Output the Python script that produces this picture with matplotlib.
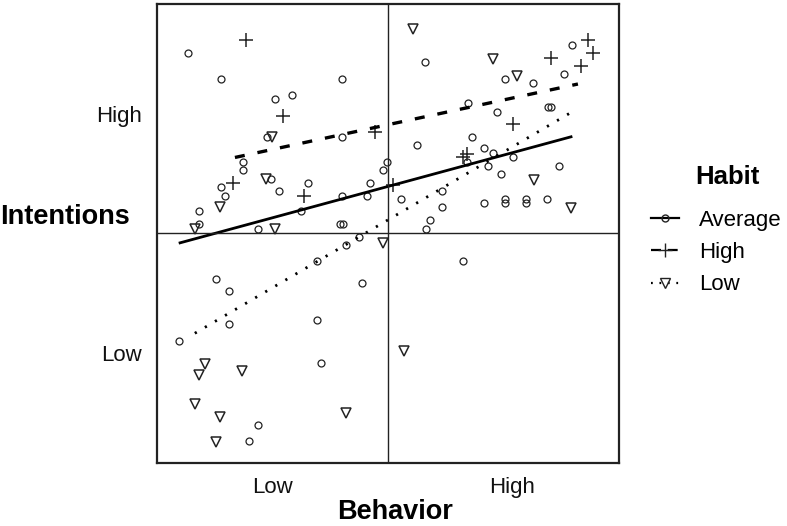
import numpy as np
import matplotlib
matplotlib.use('Agg')
import matplotlib.pyplot as plt
from matplotlib.lines import Line2D

plt.rcParams['font.family'] = ['Liberation Sans', 'DejaVu Sans']

# ---- data (0-100 scale on both axes) ----
avg_x = [6.55, 13.7, 40.0, 25.5, 29.2, 23.7, 40.0, 18.5, 18.5, 13.7, 14.7, 24.6,
         26.4, 32.7, 40.0, 46.2, 45.4, 49.0, 49.8, 9.1, 9.1, 21.7, 39.6, 40.2,
         31.1, 43.8, 58.0, 75.4, 81.5, 89.9, 88.2, 67.3, 73.6, 84.6, 85.4, 56.2,
         68.3, 70.8, 72.7, 67.2, 77.2, 71.6, 74.5, 87.2, 61.8, 52.8, 61.8, 70.8,
         75.4, 75.4, 79.9, 79.9, 84.4, 59.1, 58.2, 41.0, 34.5, 12.8, 15.6, 44.4,
         15.6, 34.5, 4.7, 35.4, 21.7, 19.8, 66.3]
avg_y = [89.3, 83.6, 83.6, 79.3, 80.1, 70.9, 70.9, 65.5, 63.7, 60.0, 58.2, 61.9,
         59.1, 61.0, 58.2, 61.0, 58.2, 63.7, 65.5, 54.8, 51.9, 51.0, 51.9, 51.9,
         54.8, 49.2, 87.4, 83.6, 82.8, 91.1, 84.6, 78.4, 76.5, 77.4, 77.4, 69.3,
         70.9, 68.5, 67.5, 65.5, 66.6, 64.6, 62.8, 64.6, 59.2, 57.5, 55.7, 56.6,
         57.5, 56.6, 57.5, 56.6, 57.5, 52.9, 51.0, 47.4, 43.9, 40.1, 37.4, 39.2,
         30.2, 31.2, 26.5, 21.8, 8.2, 4.7, 43.9]

high_x = [19.1, 27.3, 16.4, 31.8, 47.2, 85.4, 93.4, 94.5, 91.8, 77.2, 66.3, 67.2, 51.0]
high_y = [92.0, 75.5, 61.0, 58.2, 72.0, 88.2, 92.0, 89.2, 86.5, 73.7, 66.6, 67.2, 60.4]

low_x = [13.6, 8.1, 25.5, 24.8, 23.5, 55.5, 72.7, 78.0, 81.7, 89.8, 49.0, 10.2,
         9.1, 18.3, 8.2, 13.6, 40.9, 12.8, 53.5]
low_y = [55.6, 51.0, 51.0, 70.9, 61.9, 94.5, 88.0, 84.3, 61.6, 55.5, 47.9, 21.6,
         19.1, 20.0, 12.8, 9.9, 10.9, 4.6, 24.4]

# fitted lines: end points
avg_line_x = [4.9, 89.7]
avg_line_y = [47.9, 71.0]
high_line_x = [16.8, 91.2]
high_line_y = [66.5, 82.5]
low_line_x = [8.1, 89.7]
low_line_y = [28.2, 76.3]

tick_pos_x = [25, 77]
tick_pos_y = [24, 76]
tick_labels = ['Low', 'High']
groups = ['Average', 'High', 'Low']

INK = '#222222'

fig = plt.figure(figsize=(7.87, 5.26), dpi=100)
ax = fig.add_axes([0.2001, 0.1203, 0.5858, 0.8727])

mk = dict(linestyle='none', markerfacecolor='none', markeredgecolor=INK)
ax.plot(avg_x, avg_y, marker='o', markersize=5, markeredgewidth=0.9, **mk)
ax.plot(high_x, high_y, marker='+', markersize=10, markeredgewidth=1.1, **mk)
ax.plot(low_x, low_y, marker='v', markersize=7.5, markeredgewidth=1.1, **mk)

ax.plot(avg_line_x, avg_line_y, color='black', linewidth=2.0, linestyle='-')
ax.plot(high_line_x, high_line_y, color='black', linewidth=2.4,
        linestyle=(0, (3.0, 3.9)))
ax.plot(low_line_x, low_line_y, color='black', linewidth=2.0,
        linestyle=(0, (0.8, 3.4)))

ax.axvline(50, color=INK, linewidth=1.0)
ax.axhline(50, color=INK, linewidth=1.0)

ax.set_xlim(0, 100)
ax.set_ylim(0, 100)
ax.set_xticks(tick_pos_x)
ax.set_xticklabels(tick_labels)
ax.set_yticks(tick_pos_y)
ax.set_yticklabels(tick_labels)
ax.tick_params(length=0, labelsize=16, colors='#111111')
ax.tick_params(axis='x', pad=10)
ax.tick_params(axis='y', pad=11)
for s in ax.spines.values():
    s.set_linewidth(1.6)
    s.set_color(INK)

fig.text(65 / 787, 1 - 217 / 526, 'Intentions', fontsize=19.5,
         fontweight='bold', ha='center', va='center')
fig.text(395 / 787, 1 - 519 / 526, 'Behavior', fontsize=19.5,
         fontweight='bold', ha='center', va='baseline')

# legend: title drawn separately to get the wider gap under it
fig.text(727 / 787, 1 - 177 / 526, 'Habit', fontsize=18.5,
         fontweight='bold', ha='center', va='center')
handles = [
    Line2D([], [], color='black', linestyle='-', linewidth=1.6, marker='o',
           markersize=5, markerfacecolor='none', markeredgecolor=INK),
    Line2D([], [], color='black', linestyle=(0, (4.5, 3)), linewidth=1.6,
           marker='+', markersize=10, markeredgecolor=INK),
    Line2D([], [], color='black', linestyle=(0, (0.8, 3)), linewidth=1.6,
           marker='v', markersize=7, markerfacecolor='none', markeredgecolor=INK),
]
fig.legend(handles, groups, loc='upper left',
           bbox_to_anchor=(640 / 787, 1 - 199 / 526),
           frameon=False, fontsize=16, handlelength=1.25,
           handletextpad=0.9, labelspacing=0.5, borderpad=0)

fig.savefig('out.png', dpi=100)
